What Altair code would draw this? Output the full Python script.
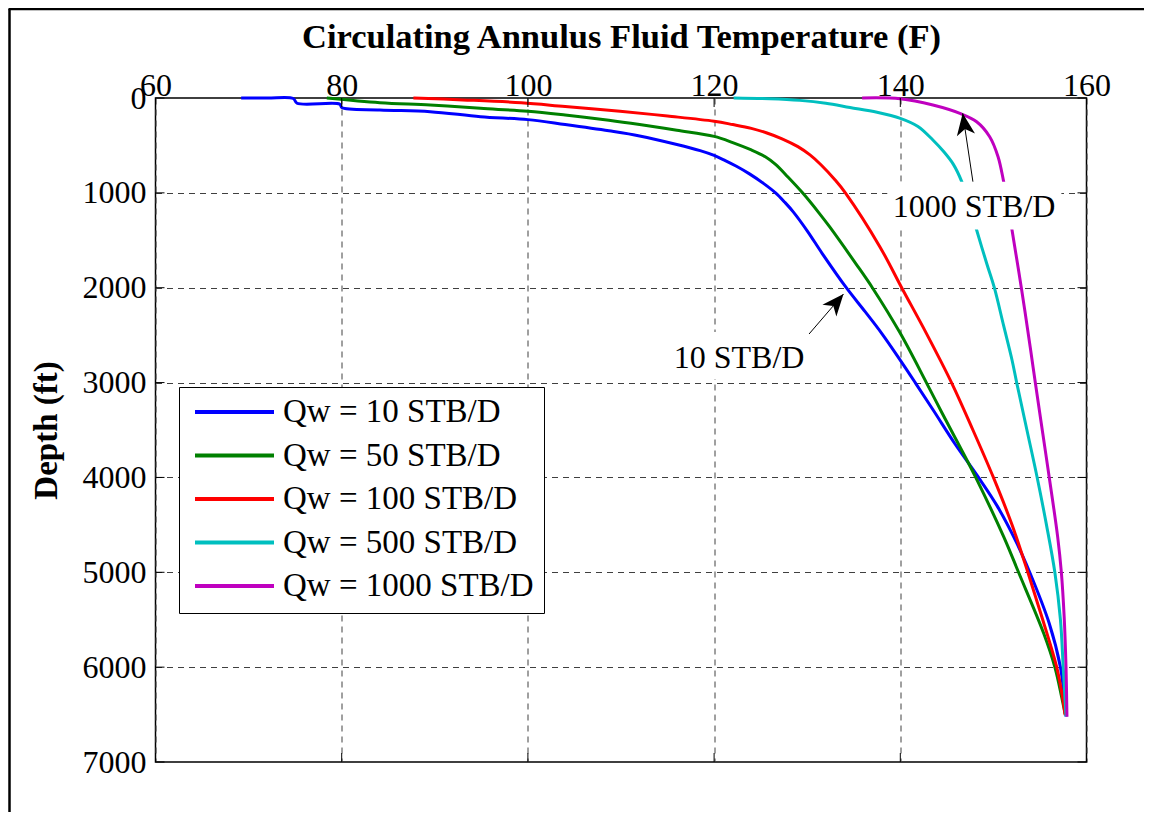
import altair as alt
import pandas as pd

# ---------------- data ----------------
series_names = ["Qw = 10 STB/D", "Qw = 50 STB/D", "Qw = 100 STB/D",
                "Qw = 500 STB/D", "Qw = 1000 STB/D"]
series_colors = ["#0000FF", "#008000", "#FF0000", "#00BFBF", "#BF00BF"]

temp_10 = [69.2, 72.0, 74.8, 75.2, 79.8, 80.0, 84.1, 89.5, 94.9, 100.0,
           104.0, 108.7, 112.0, 116.0, 118.5, 120.0, 121.2, 122.4, 123.8, 125.3,
           126.6, 127.6, 128.5, 130.0, 131.6, 134.2, 136.2, 138.0, 139.9, 141.6,
           143.6, 145.9, 148.4, 150.4, 152.5, 153.9, 156.0, 157.2, 157.6, 157.8]
depth_10 = [0, 1, 5, 55, 65, 100, 126, 144, 197, 228,
            280, 346, 400, 490, 555, 605, 660, 720, 800, 900,
            1000, 1100, 1200, 1400, 1637, 2000, 2250, 2481, 2750, 3000,
            3300, 3650, 4000, 4300, 4690, 5000, 5540, 6000, 6310, 6520]

temp_50 = [78.4, 84.1, 89.5, 94.9, 100.0, 104.0, 108.7, 112.0, 116.0, 120.0,
           122.0, 124.0, 125.5, 126.6, 127.9, 129.5, 131.3, 132.4, 135.2, 137.0,
           140.0, 142.8, 144.5, 146.4, 148.1, 151.1, 152.7, 155.4, 156.6, 157.3,
           157.7]
depth_50 = [0, 49, 74, 109, 140, 180, 235, 280, 340, 405,
            470, 548, 620, 700, 830, 1000, 1216, 1357, 1743, 2000,
            2481, 3000, 3324, 3676, 4000, 4624, 5000, 5643, 6000, 6300,
            6490]

temp_100 = [87.7, 93.0, 99.3, 104.0, 109.9, 115.0, 120.0, 122.0, 124.0, 125.6,
            127.3, 129.0, 130.3, 131.5, 133.0, 134.1, 137.8, 140.15, 142.8, 145.5,
            147.8, 150.0, 152.0, 153.7, 155.3, 156.8, 157.4, 157.7]
depth_100 = [0, 20, 50, 90, 140, 190, 245, 280, 320, 366,
             430, 513, 600, 706, 864, 1000, 1567, 2000, 2481, 3000,
             3500, 4000, 4500, 5000, 5500, 6000, 6300, 6505]

temp_500 = [122.1, 126.0, 129.2, 132.0, 134.6, 137.5, 140.0, 141.9, 143.5, 144.7,
            145.7, 146.6, 147.5, 148.2, 149.3, 150.1, 151.1, 152.0, 152.5, 153.6,
            154.7, 155.7, 156.6, 157.2, 157.5, 157.8]
depth_500 = [0, 8, 25, 55, 100, 150, 214, 300, 443, 570,
             700, 882, 1150, 1392, 1750, 2000, 2400, 2762, 3000, 3500,
             4000, 4500, 5000, 5500, 6000, 6520]

temp_1000 = [135.9, 140.0, 143.5, 146.4, 148.2, 149.6, 150.5, 151.1, 151.6, 152.0,
             153.0, 154.0, 154.5, 155.3, 156.0, 156.9, 157.3, 157.6, 157.8, 157.9]
depth_1000 = [0, 8, 74, 162, 250, 408, 619, 882, 1150, 1392,
              2000, 2657, 3000, 3535, 4000, 4624, 5000, 5468, 6000, 6522]

x_ticks = [60, 80, 100, 120, 140, 160]
y_ticks = [0, 1000, 2000, 3000, 4000, 5000, 6000, 7000]

# annotations: label text, label position, arrow tail -> arrow tip, background box
ann_text = ["10 STB/D", "1000 STB/D"]
ann_temp = [122.68, 147.92]
ann_depth = [2846, 1254]
arrow_tail_temp = [130.2, 147.8]
arrow_tail_depth = [2488, 882]
arrow_tip_temp = [133.9, 146.7]
arrow_tip_depth = [2066, 162]
arrow_angle = [40.4, 351.4]
box_temp = [114.8, 138.6]
box_temp2 = [130.4, 157.3]
box_depth = [2467, 882]
box_depth2 = [2962, 1385]

# ---------------- tables ----------------
all_t = [temp_10, temp_50, temp_100, temp_500, temp_1000]
all_d = [depth_10, depth_50, depth_100, depth_500, depth_1000]
rows = []
for name, ts, ds in zip(series_names, all_t, all_d):
    for i, (t, d) in enumerate(zip(ts, ds)):
        rows.append({"series": name, "temp": t, "depth": d, "idx": i})
df = pd.DataFrame(rows)

ann_df = pd.DataFrame({"label": ann_text, "temp": ann_temp, "depth": ann_depth})
arrow_df = pd.DataFrame({"temp": arrow_tail_temp, "depth": arrow_tail_depth,
                         "temp2": arrow_tip_temp, "depth2": arrow_tip_depth})
head_df = pd.DataFrame({"temp": arrow_tip_temp, "depth": arrow_tip_depth,
                        "angle": arrow_angle})
box_df = pd.DataFrame({"temp": box_temp, "temp2": box_temp2,
                       "depth": box_depth, "depth2": box_depth2})
xt_df = pd.DataFrame({"temp": x_ticks})
yt_df = pd.DataFrame({"depth": y_ticks})
one = pd.DataFrame({"a": [0]})

W, H = 931, 664
FONT = "Liberation Serif"

xscale = alt.Scale(domain=[60, 160], nice=False, zero=False)
yscale = alt.Scale(domain=[0, 7000], nice=False, zero=False, reverse=True)

grid_kw = dict(grid=True, gridColor="#404040", gridDash=[6, 5], gridWidth=1,
               gridOpacity=1, ticks=False, tickSize=0, domain=False,
               labelFont=FONT, labelFontSize=32, labelColor="black",
               labelFlush=False, labelOverlap=False,
               titleFont=FONT, titleFontWeight="bold", titleColor="black")

xaxis = alt.Axis(orient="top", title="Circulating Annulus Fluid Temperature (F)",
                 values=x_ticks, labelPadding=3, labelBaseline="alphabetic",
                 titleFontSize=34.5, titleY=-51, titleBaseline="alphabetic",
                 **grid_kw)
yaxis = alt.Axis(orient="left", title="Depth (ft)", values=y_ticks, format="d",
                 labelPadding=9.5, labelBaseline="middle", titleFontSize=33,
                 titleAngle=270, titleX=-99, titleY=H / 2, titleAlign="center",
                 titleBaseline="alphabetic", **grid_kw)

legend = alt.Legend(orient="none", legendX=23.5, legendY=289, title=None,
                    strokeColor="black", fillColor="white", padding=10,
                    symbolType="stroke", symbolSize=6241, symbolStrokeWidth=4,
                    clipHeight=30, rowPadding=10.5, labelFont=FONT,
                    labelFontSize=33, labelColor="black", labelOffset=7,
                    symbolOffset=4, labelLimit=500)

lines = alt.Chart(df).mark_line(strokeWidth=3, interpolate="catmull-rom").encode(
    x=alt.X("temp:Q", scale=xscale, axis=xaxis),
    y=alt.Y("depth:Q", scale=yscale, axis=yaxis),
    color=alt.Color("series:N", scale=alt.Scale(domain=series_names,
                                                range=series_colors),
                    legend=legend),
    order=alt.Order("idx:Q"),
)

# inward tick marks on all four sides
tick_top = alt.Chart(xt_df).mark_rule(color="black", strokeWidth=1).encode(
    x="temp:Q", y=alt.value(0), y2=alt.value(9))
tick_bot = alt.Chart(xt_df).mark_rule(color="black", strokeWidth=1).encode(
    x="temp:Q", y=alt.value(H), y2=alt.value(H - 9))
tick_left = alt.Chart(yt_df).mark_rule(color="black", strokeWidth=1).encode(
    y="depth:Q", x=alt.value(0), x2=alt.value(9))
tick_right = alt.Chart(yt_df).mark_rule(color="black", strokeWidth=1).encode(
    y="depth:Q", x=alt.value(W), x2=alt.value(W - 9))

boxes = alt.Chart(box_df).mark_rect(color="white").encode(
    x="temp:Q", x2="temp2:Q", y="depth:Q", y2="depth2:Q")

texts = alt.Chart(ann_df).mark_text(font=FONT, fontSize=32, color="black",
                                    align="center", baseline="alphabetic").encode(
    x="temp:Q", y="depth:Q", text="label:N")

arrows = alt.Chart(arrow_df).mark_rule(color="black", strokeWidth=1).encode(
    x="temp:Q", x2="temp2:Q", y="depth:Q", y2="depth2:Q")

heads = alt.Chart(head_df).mark_point(
    shape="M0,0 L0.42,1 L0,0.72 L-0.42,1 Z", size=1900, filled=True,
    color="black", opacity=1, strokeWidth=0).encode(
    x="temp:Q", y="depth:Q", angle=alt.Angle("angle:Q", scale=None))

frame_left = alt.Chart(one).mark_rule(color="black", strokeWidth=2.5).encode(
    x=alt.value(-146), y=alt.value(-89), y2=alt.value(H + 100))
frame_top = alt.Chart(one).mark_rule(color="black", strokeWidth=2.5).encode(
    y=alt.value(-89), x=alt.value(-147), x2=alt.value(W + 100))

chart = alt.layer(lines, tick_top, tick_bot, tick_left, tick_right,
                  boxes, texts, arrows, heads, frame_left, frame_top).properties(
    width=W, height=H,
    autosize=alt.AutoSizeParams(type="none"),
    padding={"left": 147.5, "top": 90, "right": 57, "bottom": 50},
    background="white",
).configure_view(stroke="black", strokeWidth=1.5)

chart.save("out.html", embed_options={"renderer": "svg", "actions": False})
